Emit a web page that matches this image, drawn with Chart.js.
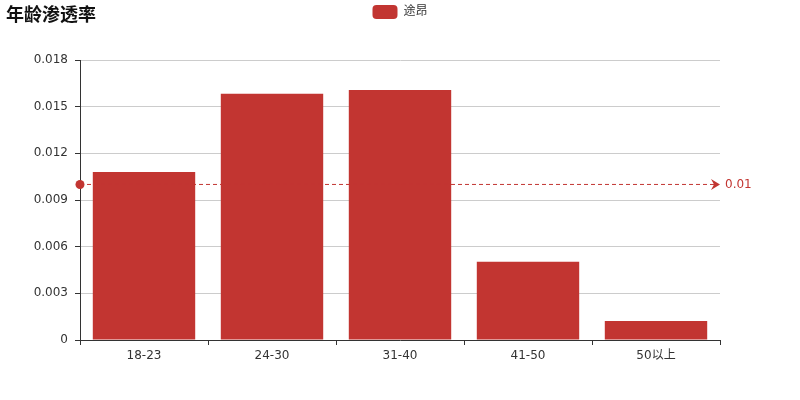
<!DOCTYPE html>
<html>
<head>
<meta charset="utf-8">
<script src="https://cdn.jsdelivr.net/npm/chart.js@4"></script>
<style>
html,body{margin:0;padding:0;background:#fff;}
#wrap{width:800px;height:400px;}
</style>
</head>
<body>
<div id="wrap"><canvas id="c" width="800" height="400"></canvas></div>
<script>
const chartTitle = '年龄渗透率';
const seriesName = '途昂';
const categories = ['18-23', '24-30', '31-40', '41-50', '50以上'];
const values = [0.0108, 0.01583, 0.01607, 0.00503, 0.00122];
const yTicks = [0, 0.003, 0.006, 0.009, 0.012, 0.015, 0.018];
const markLineValue = 0.01;
const markLineLabel = '0.01';

const RED = '#c23531';
const FONT = 'DejaVu Sans, "Noto Sans CJK SC", sans-serif';

const titlePlugin = {
  id: 'titleText',
  afterDraw(chart) {
    const ctx = chart.ctx;
    ctx.save();
    ctx.font = 'bold 18px "Noto Sans CJK SC", sans-serif';
    ctx.fillStyle = '#111';
    ctx.textAlign = 'left';
    ctx.textBaseline = 'middle';
    ctx.fillText(chartTitle, 6, 14);
    ctx.restore();
  }
};

const legendSpacer = {
  id: 'legendSpacer',
  beforeLayout(chart) {
    const lg = chart.legend;
    if (lg && !lg._spaced) {
      const f = lg.fit;
      lg.fit = function () { f.call(this); this.height = 60; };
      lg._spaced = true;
    }
  }
};

const markLinePlugin = {
  id: 'markLine',
  afterDatasetsDraw(chart) {
    const ctx = chart.ctx;
    const y = chart.scales.y.getPixelForValue(markLineValue);
    const left = chart.chartArea.left;
    const right = chart.chartArea.right;
    ctx.save();
    ctx.strokeStyle = RED;
    ctx.lineWidth = 1;
    ctx.setLineDash([4, 3]);
    ctx.beginPath();
    ctx.moveTo(left, y);
    ctx.lineTo(right - 6, y);
    ctx.stroke();
    ctx.setLineDash([]);
    ctx.fillStyle = RED;
    ctx.beginPath();
    ctx.arc(left, y, 4.5, 0, Math.PI * 2);
    ctx.fill();
    ctx.beginPath();
    ctx.moveTo(right - 9, y - 5.5);
    ctx.lineTo(right, y);
    ctx.lineTo(right - 9, y + 5.5);
    ctx.lineTo(right - 6, y);
    ctx.closePath();
    ctx.fill();
    ctx.font = '12px ' + FONT;
    ctx.textAlign = 'left';
    ctx.textBaseline = 'middle';
    ctx.fillText(markLineLabel, right + 5, y);
    ctx.restore();
  }
};

new Chart(document.getElementById('c'), {
  type: 'bar',
  data: {
    labels: categories,
    datasets: [{
      label: seriesName,
      data: values,
      backgroundColor: RED,
      borderWidth: 0,
      barPercentage: 1,
      categoryPercentage: 0.8
    }]
  },
  options: {
    responsive: false,
    animation: false,
    devicePixelRatio: 1,
    layout: { padding: { left: 0, right: 0, top: 0, bottom: 30 } },
    plugins: {
      title: { display: false },
      tooltip: { enabled: false },
      legend: {
        display: true,
        position: 'top',
        align: 'center',
        labels: {
          boxWidth: 25,
          boxHeight: 14,
          useBorderRadius: true,
          borderRadius: 4,
          padding: 5,
          color: '#333',
          font: { size: 12, family: FONT }
        }
      }
    },
    scales: {
      x: {
        type: 'category',
        offset: true,
        afterFit(s) { s.height = 30; },
        border: { display: true, color: '#333', width: 1 },
        grid: {
          display: true,
          offset: true,
          drawOnChartArea: false,
          drawTicks: true,
          tickLength: 5,
          color: '#333'
        },
        ticks: {
          color: '#333',
          padding: 4,
          font: { size: 12, family: FONT },
          maxRotation: 0
        }
      },
      y: {
        min: 0,
        max: 0.018,
        afterFit(s) { s.width = 80; },
        afterBuildTicks(s) { s.ticks = yTicks.map(v => ({ value: v })); },
        border: { display: true, color: '#333', width: 1 },
        grid: {
          color: '#ccc',
          tickColor: '#333',
          drawTicks: true,
          tickLength: 5
        },
        ticks: {
          color: '#333',
          padding: 7,
          font: { size: 12, family: FONT },
          callback(v) { return String(parseFloat(v.toFixed(3))); }
        }
      },
      ySpace: {
        type: 'linear',
        position: 'right',
        min: 0,
        max: 1,
        afterFit(s) { s.width = 80; },
        border: { display: false },
        grid: { display: false, drawTicks: false },
        ticks: { display: false }
      }
    }
  },
  plugins: [titlePlugin, legendSpacer, markLinePlugin]
});
</script>
</body>
</html>
